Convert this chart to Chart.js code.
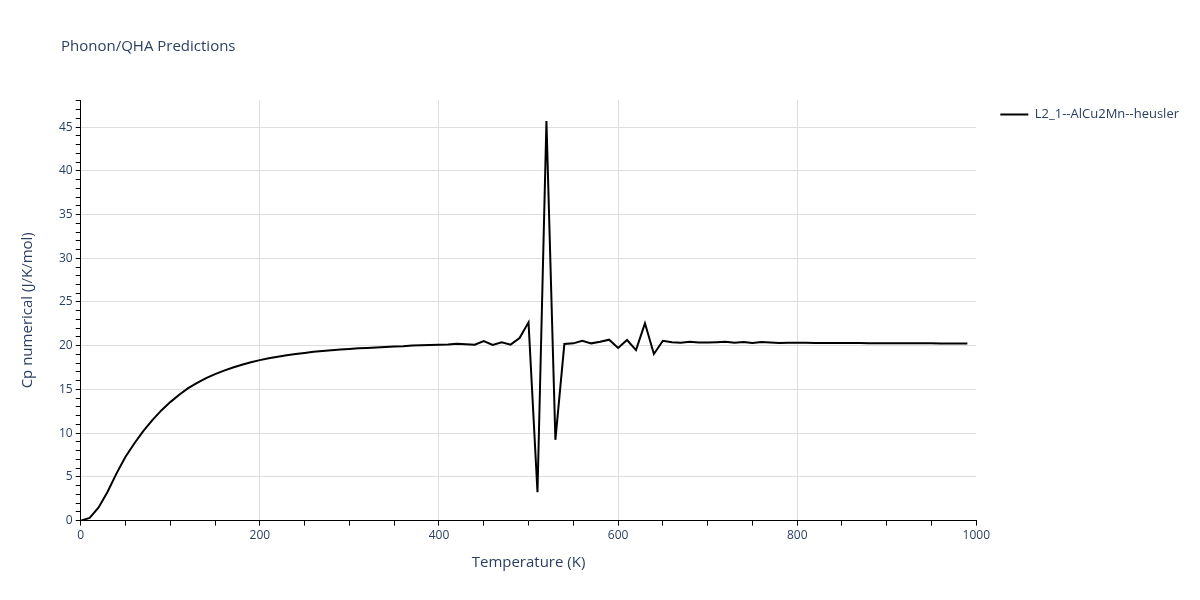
<!DOCTYPE html>
<html>
<head>
<meta charset="utf-8">
<script src="https://cdn.jsdelivr.net/npm/chart.js@4.4.1/dist/chart.umd.min.js"></script>
<style>
  html, body { margin: 0; padding: 0; background: #fff; }
  #wrap { position: relative; width: 1200px; height: 600px; }
  #title { position: absolute; left: 61px; top: 35px; font: 15px "Open Sans", sans-serif; color: #2a3f5f; line-height: 20px; }
  canvas { display: block; }
</style>
</head>
<body>
<div id="wrap">
  <div id="title">Phonon/QHA Predictions</div>
  <canvas id="cpChart" width="1200" height="600"></canvas>
</div>
<script>
const temperatures = [
    0, 10, 20, 30, 40, 50, 60, 70, 80, 90,
    100, 110, 120, 130, 140, 150, 160, 170, 180, 190,
    200, 210, 220, 230, 240, 250, 260, 270, 280, 290,
    300, 310, 320, 330, 340, 350, 360, 370, 380, 390,
    400, 410, 420, 430, 440, 450, 460, 470, 480, 490,
    500, 510, 520, 530, 540, 550, 560, 570, 580, 590,
    600, 610, 620, 630, 640, 650, 660, 670, 680, 690,
    700, 710, 720, 730, 740, 750, 760, 770, 780, 790,
    800, 810, 820, 830, 840, 850, 860, 870, 880, 890,
    900, 910, 920, 930, 940, 950, 960, 970, 980, 990
];

const cpValues = [
    0.0, 0.3, 1.5, 3.3, 5.4, 7.3, 8.85, 10.25, 11.5, 12.6,
    13.55, 14.4, 15.15, 15.75, 16.3, 16.75, 17.15, 17.5, 17.82, 18.1,
    18.35, 18.57, 18.75, 18.9, 19.05, 19.18, 19.3, 19.4, 19.48, 19.56,
    19.63, 19.7, 19.75, 19.8, 19.85, 19.9, 19.94, 20.02, 20.05, 20.08,
    20.12, 20.15, 20.22, 20.18, 20.12, 20.54, 20.08, 20.38, 20.12, 20.88,
    22.67, 3.24, 45.69, 9.24, 20.19, 20.27, 20.57, 20.27, 20.46, 20.69,
    19.74, 20.65, 19.5, 22.56, 19.05, 20.57, 20.4, 20.35, 20.46, 20.38,
    20.36, 20.4, 20.45, 20.33, 20.42, 20.32, 20.42, 20.38, 20.3, 20.34,
    20.33, 20.33, 20.32, 20.32, 20.31, 20.31, 20.3, 20.3, 20.29, 20.29,
    20.28, 20.28, 20.27, 20.27, 20.28, 20.27, 20.26, 20.26, 20.25, 20.25
];

const seriesName = "L2_1--AlCu2Mn--heusler";
const xLabelTicks = [0, 200, 400, 600, 800, 1000];
const yLabelTicks = [0, 5, 10, 15, 20, 25, 30, 35, 40, 45];

const gridGray = "#dedede";
const clear = "rgba(0,0,0,0)";

Chart.defaults.font.family = '"Open Sans", sans-serif';
Chart.defaults.color = "#2a3f5f";

// push the legend a bit away from the plot, like plotly does
const legendShift = {
    id: "legendShift",
    afterLayout(chart) {
        chart.legend.left += 16;
        chart.legend.right += 16;
    }
};

const points = temperatures.map((t, i) => ({ x: t, y: cpValues[i] }));

const ctxCp = document.getElementById("cpChart").getContext("2d");
new Chart(ctxCp, {
    type: "line",
    data: {
        datasets: [{
            label: seriesName,
            data: points,
            borderColor: "#000",
            backgroundColor: "#000",
            borderWidth: 2,
            pointRadius: 0,
            tension: 0,
            fill: false
        }]
    },
    options: {
        responsive: false,
        animation: false,
        layout: { padding: { left: 10, right: 27, top: 100, bottom: 24 } },
        plugins: {
            legend: {
                position: "right",
                align: "start",
                fullSize: false,
                labels: {
                    usePointStyle: true,
                    pointStyle: "line",
                    pointStyleWidth: 28,
                    padding: 8,
                    color: "#2a3f5f",
                    font: { size: 13 }
                }
            },
            tooltip: { enabled: false }
        },
        scales: {
            x: {
                type: "linear",
                min: 0,
                max: 1000,
                border: { color: "#000", width: 1 },
                grid: {
                    color: c => (c.tick && c.tick.value > 0 && c.tick.value < 1000 && c.tick.value % 200 === 0) ? gridGray : clear,
                    tickColor: "#000",
                    tickLength: 5
                },
                ticks: {
                    stepSize: 50,
                    autoSkip: false,
                    maxRotation: 0,
                    padding: 3,
                    font: { size: 12 },
                    callback: v => xLabelTicks.includes(v) ? v : ""
                },
                title: {
                    display: true,
                    text: "Temperature (K)",
                    font: { size: 15 },
                    padding: { top: 8, bottom: 4 }
                }
            },
            y: {
                min: 0,
                max: 48.1,
                border: { color: "#000", width: 1 },
                grid: {
                    color: c => (c.tick && c.tick.value > 0 && yLabelTicks.includes(c.tick.value)) ? gridGray : clear,
                    tickColor: "#000",
                    tickLength: 5
                },
                ticks: {
                    stepSize: 1,
                    autoSkip: false,
                    padding: 3,
                    font: { size: 12 },
                    callback: v => yLabelTicks.includes(v) ? v : ""
                },
                title: {
                    display: true,
                    text: "Cp numerical (J/K/mol)",
                    font: { size: 15 },
                    padding: { top: 9, bottom: 19 }
                }
            }
        }
    },
    plugins: [legendShift]
});
</script>
</body>
</html>
